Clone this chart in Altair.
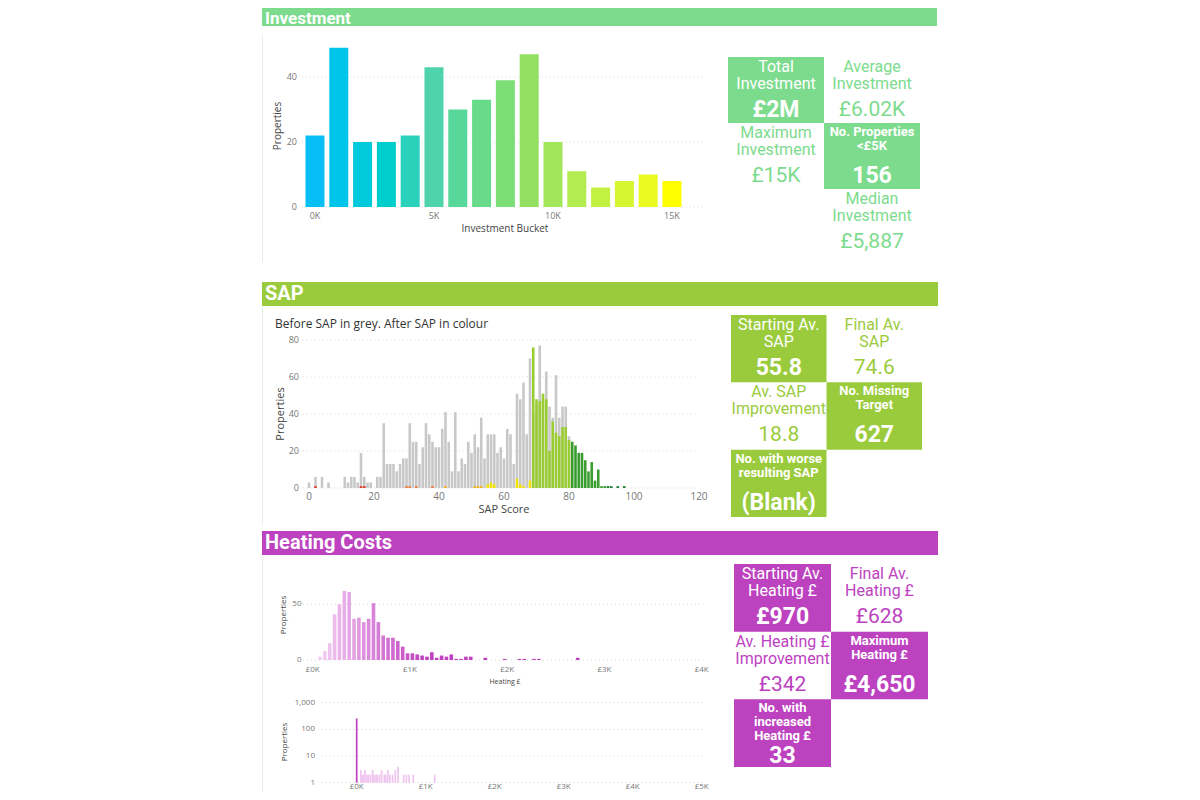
import altair as alt
import pandas as pd

W, H = 1184, 784
ONE = pd.DataFrame({"k": [0]})
CARDF = "Roboto"
AXF = "Open Sans"
LABEL_C = "#777777"
TITLE_C = "#444444"

INV_COLOR = "#7DDB8E"
SAP_COLOR = "#9ACB3C"
HEAT_COLOR = "#BD42BF"

# ---------------- data ----------------
inv_bucket = list(range(16))
inv_count = [22, 49, 20, 20, 22, 43, 30, 33, 39, 47, 20, 11, 6, 8, 10, 8]
inv_ticks = [0, 5, 10, 15]
inv_yticks = [0, 20, 40]

sap_before_score = [0, 2, 4, 6, 11, 12, 13, 14, 15, 16, 17, 18, 19] + list(range(21, 81))
sap_before_count = [3, 6, 6, 3, 6, 3, 6, 6, 3, 19, 6, 3, 3,
                    6, 6, 35, 13, 13, 13, 9, 13, 16, 16, 35, 25, 25, 13, 22, 35, 29, 25,
                    22, 22, 32, 41, 25, 9, 41, 9, 16, 13, 25, 19, 29, 22, 38, 16,
                    29, 29, 29, 19, 22, 16, 32, 29, 13, 51, 48, 57, 29, 70,
                    40, 45, 77, 48, 63, 44, 38, 61, 38, 44, 44, 28]
sap_after_score = [2, 16, 17, 30, 31, 33, 38, 42, 51, 52, 53, 55, 56, 57, 64, 65, 66, 68] \
    + list(range(69, 81)) + list(range(81, 94)) + [95, 97]
sap_after_count = [1, 1, 1, 1, 1, 1, 1, 1, 1, 1, 1, 2, 3, 2, 5, 2, 1, 4,
                   76, 48, 47, 51, 48, 20, 36, 30, 28, 33, 33, 26,
                   25, 23, 19, 19, 15, 9, 14, 4, 10, 1, 1, 1, 1, 1, 1]
sap_bands = ["G", "F", "E", "D", "C", "B", "A"]
sap_band_colors = ["#e23b2e", "#ee7d3e", "#f3b21c", "#f2e30c", "#9acd32", "#3a9c2f", "#1f7a35"]
sap_ticks = [0, 20, 40, 60, 80, 100, 120]
sap_yticks = [0, 20, 40, 60, 80]

heat_bin = [50, 100, 150, 200, 250, 300, 350, 400, 450, 500, 550, 600, 650, 700, 750,
            800, 850, 900, 950, 1000, 1050, 1100, 1150, 1200, 1250, 1300, 1350, 1400,
            1450, 1500, 1550, 1600, 1750, 1950, 2100, 2150, 2250, 2300, 2700]
heat_count = [3, 8, 15, 41, 50, 62, 61, 37, 38, 34, 37, 51, 34, 22, 20,
              20, 17, 12, 6, 6, 5, 4, 3, 7, 2, 4, 3, 5,
              1, 1, 3, 3, 2, 1, 1, 1, 1, 1, 2]
heat_ticks = [0, 1000, 2000, 3000, 4000]
heat_yticks = [0, 50]

heat2_x = [0, 60, 80, 100, 120, 150, 170, 200, 230, 250, 280, 300, 330, 360, 400,
           420, 450, 480, 520, 560, 600, 680, 720, 760, 820, 1130]
heat2_n = [257, 3, 2, 2, 3, 2, 2, 2, 3, 2, 2, 2, 2, 3, 2,
           2, 3, 2, 2, 3, 4, 2, 2, 2, 2, 2]
heat2_ticks = [0, 1000, 2000, 3000, 4000, 5000]
heat2_yticks = [1, 10, 100, 1000]

inv_card_title = ["Total\nInvestment", "Average\nInvestment", "Maximum\nInvestment",
                  "No. Properties\n<£5K", "Median\nInvestment"]
inv_card_value = ["£2M", "£6.02K", "£15K", "156", "£5,887"]
inv_card_col = [0, 1, 0, 1, 1]
inv_card_row = [0, 0, 1, 1, 2]
inv_card_filled = [True, False, False, True, False]
inv_card_small = [False, False, False, True, False]

sap_card_title = ["Starting Av.\nSAP", "Final Av.\nSAP", "Av. SAP\nImprovement",
                  "No. Missing\nTarget", "No. with worse\nresulting SAP"]
sap_card_value = ["55.8", "74.6", "18.8", "627", "(Blank)"]
sap_card_col = [0, 1, 0, 1, 0]
sap_card_row = [0, 0, 1, 1, 2]
sap_card_filled = [True, False, False, True, True]
sap_card_small = [False, False, False, True, True]

heat_card_title = ["Starting Av.\nHeating £", "Final Av.\nHeating £", "Av. Heating £\nImprovement",
                   "Maximum\nHeating £", "No. with\nincreased\nHeating £"]
heat_card_value = ["£970", "£628", "£342", "£4,650", "33"]
heat_card_col = [0, 1, 0, 1, 0]
heat_card_row = [0, 0, 1, 1, 2]
heat_card_filled = [True, False, False, True, True]
heat_card_small = [False, False, False, True, True]


# ---------------- helpers ----------------
def lin(domain, rng):
    return alt.Scale(domain=domain, range=rng, nice=False, zero=False, padding=0)


def grid_rules(vals, x0, x1, xs, ys):
    df = pd.DataFrame({"v": vals})
    return alt.Chart(df).mark_rule(color="#d6d6d6", strokeDash=[1, 3], strokeWidth=1).encode(
        y=alt.Y("v:Q", scale=ys, axis=None),
        x=alt.XDatum(x0, scale=xs, axis=None),
        x2=alt.X2Datum(x1),
    )


def xlabels(vals, xs, ypix, expr, fs, baseline="middle"):
    df = pd.DataFrame({"v": vals})
    return alt.Chart(df).transform_calculate(t=expr).mark_text(
        align="center", baseline=baseline, font=AXF, fontSize=fs, color=LABEL_C
    ).encode(x=alt.X("v:Q", scale=xs, axis=None), y=alt.value(ypix), text="t:N")


def ylabels(vals, ys, xpix, expr, fs):
    df = pd.DataFrame({"v": vals})
    return alt.Chart(df).transform_calculate(t=expr).mark_text(
        align="right", baseline="middle", font=AXF, fontSize=fs, color=LABEL_C
    ).encode(y=alt.Y("v:Q", scale=ys, axis=None), x=alt.value(xpix), text="t:N")


def label(text, x, y, fs, angle=0, color=TITLE_C, align="center", font=AXF):
    kw = dict(text=text, align=align, baseline="middle", font=font, fontSize=fs, color=color)
    if angle:
        kw["angle"] = angle
    return alt.Chart(ONE).mark_text(**kw).encode(x=alt.value(x), y=alt.value(y))


def cards(titles, values, cols, rows, filled, small, color, xr, yr):
    df = pd.DataFrame(dict(title=titles, value=values, col=cols, row=rows,
                           filled=filled, small=small))
    xs = lin([0, 2], xr)
    ys = lin([0, 3], yr)
    base = alt.Chart(df).transform_calculate(
        c1="datum.col + 1", r1="datum.row + 1", cx="datum.col + 0.5",
        nl="length(split(datum.title, '\\n'))")
    X = alt.X("cx:Q", scale=xs, axis=None)
    Y = alt.Y("row:Q", scale=ys, axis=None)
    rect = base.transform_filter("datum.filled").mark_rect(color=color).encode(
        x=alt.X("col:Q", scale=xs, axis=None), x2="c1:Q", y=Y, y2="r1:Q")
    big = base.transform_filter("!datum.small").mark_text(
        baseline="top", lineBreak="\n", fontSize=16, lineHeight=17, font=CARDF, dy=2
    ).encode(x=X, y=Y, text="title:N",
             color=alt.condition("datum.filled", alt.value("white"), alt.value(color)))
    sm = base.transform_filter("datum.small").mark_text(
        baseline="top", lineBreak="\n", fontSize=13, fontWeight="bold", lineHeight=14,
        font=CARDF, dy=3, color="white"
    ).encode(x=X, y=Y, text="title:N")
    vf2 = base.transform_filter("datum.filled && datum.nl < 3").mark_text(
        baseline="middle", fontSize=23, fontWeight="bold", font=CARDF, dy=53, color="white"
    ).encode(x=X, y=Y, text="value:N")
    vf3 = base.transform_filter("datum.filled && datum.nl >= 3").mark_text(
        baseline="middle", fontSize=23, fontWeight="bold", font=CARDF, dy=57, color="white"
    ).encode(x=X, y=Y, text="value:N")
    vp = base.transform_filter("!datum.filled").mark_text(
        baseline="middle", fontSize=21, font=CARDF, dy=53, color=color
    ).encode(x=X, y=Y, text="value:N")
    return alt.layer(rect, big, sm, vf2, vf3, vp)


def header(text, color, y0, y1, x1, ty, fs=20):
    rect = alt.Chart(ONE).mark_rect(color=color).encode(
        x=alt.value(254), x2=alt.value(x1), y=alt.value(y0), y2=alt.value(y1))
    txt = alt.Chart(ONE).mark_text(
        text=text, align="left", baseline="middle", font=CARDF, fontSize=fs,
        fontWeight="bold", color="white").encode(x=alt.value(257), y=alt.value(ty))
    return [rect, txt]


def border(y0, y1):
    return alt.Chart(ONE).mark_rule(color="#e3efe5", strokeWidth=1).encode(
        x=alt.value(254.5), y=alt.value(y0), y2=alt.value(y1))


# ---------------- investment ----------------
inv_xs = lin([-0.55, 16.4], [293.9, 697.3])
inv_ys = lin([0, 50], [199, 36.5])
inv_df = pd.DataFrame({"bucket": inv_bucket, "count": inv_count})
inv_bars = alt.Chart(inv_df).mark_bar(size=19).encode(
    x=alt.X("bucket:Q", scale=inv_xs, axis=None),
    y=alt.Y("count:Q", scale=inv_ys, axis=None),
    y2=alt.Y2Datum(0),
    color=alt.Color("bucket:Q", legend=None,
                    scale=alt.Scale(domain=[0, 5, 9, 15],
                                    range=["#08BFF5", "#4FD3AA", "#93DF62", "#FFFF00"])),
)
inv_chart = alt.layer(
    grid_rules(inv_yticks, -0.55, 16.4, inv_xs, inv_ys), inv_bars,
    xlabels(inv_ticks, inv_xs, 208, "datum.v + 'K'", 9),
    ylabels(inv_yticks, inv_ys, 289, "'' + datum.v", 9),
)

# ---------------- SAP ----------------
sap_xs = lin([0, 120], [301, 691])
sap_ys = lin([0, 80], [480, 332])
sap_b = pd.DataFrame({"s": sap_before_score, "n": sap_before_count})
sap_a = pd.DataFrame({"s": sap_after_score, "n": sap_after_count})
sap_grey = alt.Chart(sap_b).mark_bar(size=2.6, color="#c8c8c8").encode(
    x=alt.X("s:Q", scale=sap_xs, axis=None),
    y=alt.Y("n:Q", scale=sap_ys, axis=None),
    y2=alt.Y2Datum(0),
)
sap_col = alt.Chart(sap_a).transform_calculate(
    band="datum.s <= 20 ? 'G' : datum.s <= 38 ? 'F' : datum.s <= 54 ? 'E' : "
         "datum.s <= 68 ? 'D' : datum.s <= 80 ? 'C' : datum.s <= 91 ? 'B' : 'A'"
).mark_bar(size=2.6).encode(
    x=alt.X("s:Q", scale=sap_xs, axis=None),
    y=alt.Y("n:Q", scale=sap_ys, axis=None),
    y2=alt.Y2Datum(0),
    color=alt.Color("band:N", legend=None, scale=alt.Scale(domain=sap_bands, range=sap_band_colors)),
)
sap_chart = alt.layer(
    grid_rules(sap_yticks, -2, 119.5, sap_xs, sap_ys), sap_grey, sap_col,
    xlabels(sap_ticks, sap_xs, 489, "'' + datum.v", 10),
    ylabels(sap_yticks, sap_ys, 291, "'' + datum.v", 9),
)

# ---------------- heating top ----------------
h_xs = lin([0, 4000], [304.7, 693.7])
h_ys = lin([0, 80], [652, 562.9])
h_df = pd.DataFrame({"b": heat_bin, "n": heat_count})
h_bars = alt.Chart(h_df).transform_calculate(c="datum.b + 25").mark_bar(size=3.6).encode(
    x=alt.X("c:Q", scale=h_xs, axis=None),
    y=alt.Y("n:Q", scale=h_ys, axis=None),
    y2=alt.Y2Datum(0),
    color=alt.Color("b:Q", legend=None,
                    scale=alt.Scale(domain=[50, 650, 1100], range=["#f3d0f3", "#d67cd6", "#c040c0"],
                                    clamp=True)),
)
h_chart = alt.layer(
    grid_rules(heat_yticks, -100, 4020, h_xs, h_ys), h_bars,
    xlabels(heat_ticks, h_xs, 662, "'£' + datum.v / 1000 + 'K'", 8),
    ylabels(heat_yticks, h_ys, 293.5, "'' + datum.v", 8),
)

# ---------------- heating bottom (log) ----------------
h2_xs = lin([0, 5000], [348.7, 693.7])
h2_ys = alt.Scale(type="log", domain=[1, 1000], range=[774.7, 694.7], nice=False, padding=0)
h2_df = pd.DataFrame({"x": heat2_x, "n": heat2_n})
h2_bars = alt.Chart(h2_df).mark_bar(size=1.7).encode(
    x=alt.X("x:Q", scale=h2_xs, axis=None),
    y=alt.Y("n:Q", scale=h2_ys, axis=None),
    y2=alt.Y2Datum(1),
    color=alt.Color("n:Q", legend=None,
                    scale=alt.Scale(domain=[2, 250], range=["#efc4ef", "#c040c0"], clamp=True)),
)
h2_chart = alt.layer(
    grid_rules(heat2_yticks, -510, 5020, h2_xs, h2_ys), h2_bars,
    xlabels(heat2_ticks, h2_xs, 783, "'£' + datum.v / 1000 + 'K'", 8, baseline="bottom"),
    ylabels(heat2_yticks, h2_ys, 307, "format(datum.v, ',')", 8),
)

# ---------------- assemble ----------------
layers = []
layers += header("Investment", INV_COLOR, -6, 18, 929, 11, fs=17)
layers += header("SAP", SAP_COLOR, 274, 298, 930, 286)
layers += header("Heating Costs", HEAT_COLOR, 523, 547, 930, 535)
layers += [border(27, 254), border(300, 517), border(549, 784)]
layers += [inv_chart, sap_chart, h_chart, h2_chart]
layers += [
    label("Investment Bucket", 497, 221, 10),
    label("Properties", 270, 118, 10, angle=270),
    label("Before SAP in grey. After SAP in colour", 267, 316, 12, color="#333333", align="left"),
    label("SAP Score", 496, 502, 11),
    label("Properties", 272.5, 406, 11, angle=270),
    label("Heating £", 497, 674, 7),
    label("Properties", 276, 607, 8, angle=270),
    label("Properties", 277, 734, 8, angle=270),
]
layers += [
    cards(inv_card_title, inv_card_value, inv_card_col, inv_card_row, inv_card_filled,
          inv_card_small, INV_COLOR, [720, 912], [49, 247]),
    cards(sap_card_title, sap_card_value, sap_card_col, sap_card_row, sap_card_filled,
          sap_card_small, SAP_COLOR, [723, 914], [307, 509]),
    cards(heat_card_title, heat_card_value, heat_card_col, heat_card_row, heat_card_filled,
          heat_card_small, HEAT_COLOR, [726, 920], [556, 759]),
]

chart = alt.layer(*layers).resolve_scale(
    x="independent", y="independent", color="independent"
).properties(
    width=W, height=H, padding=0, autosize="none", background="white"
).configure_view(stroke=None)

chart.save("out.html", embed_options={"renderer": "svg", "actions": False})
